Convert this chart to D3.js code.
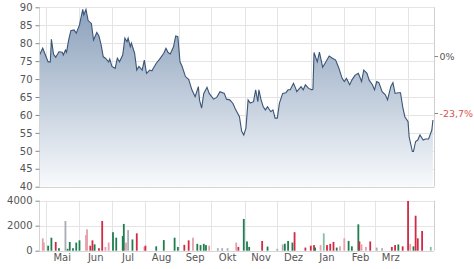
<!DOCTYPE html>
<html>
<head>
<meta charset="utf-8">
<script src="https://cdn.jsdelivr.net/npm/d3@7"></script>
<style>
  body { margin: 0; background: #fff; }
  text { font-family: "DejaVu Sans", sans-serif; font-size: 10px; fill: #555; }
</style>
</head>
<body>
<div id="chart"></div>
<script>
// price series (date, close)
const priceDates = ["2022-04-25","2022-04-28","2022-05-03","2022-05-05","2022-05-06","2022-05-08","2022-05-10","2022-05-13","2022-05-16","2022-05-17","2022-05-19","2022-05-20","2022-05-22","2022-05-24","2022-05-27","2022-05-29","2022-06-01","2022-06-04","2022-06-05","2022-06-07","2022-06-09","2022-06-12","2022-06-14","2022-06-17","2022-06-19","2022-06-21","2022-06-23","2022-06-25","2022-06-28","2022-06-29","2022-07-01","2022-07-04","2022-07-06","2022-07-08","2022-07-11","2022-07-13","2022-07-15","2022-07-16","2022-07-18","2022-07-19","2022-07-22","2022-07-24","2022-07-26","2022-07-29","2022-07-31","2022-08-02","2022-08-05","2022-08-07","2022-08-11","2022-08-14","2022-08-18","2022-08-20","2022-08-22","2022-08-24","2022-08-27","2022-08-29","2022-08-31","2022-09-02","2022-09-04","2022-09-07","2022-09-10","2022-09-13","2022-09-16","2022-09-19","2022-09-20","2022-09-22","2022-09-24","2022-09-27","2022-09-29","2022-10-03","2022-10-06","2022-10-09","2022-10-13","2022-10-15","2022-10-18","2022-10-21","2022-10-23","2022-10-27","2022-10-29","2022-10-31","2022-11-02","2022-11-04","2022-11-06","2022-11-09","2022-11-11","2022-11-13","2022-11-14","2022-11-16","2022-11-18","2022-11-20","2022-11-22","2022-11-25","2022-11-27","2022-11-29","2022-12-01","2022-12-03","2022-12-06","2022-12-09","2022-12-11","2022-12-13","2022-12-16","2022-12-18","2022-12-19","2022-12-23","2022-12-25","2022-12-27","2022-12-30","2023-01-02","2023-01-03","2023-01-04","2023-01-07","2023-01-09","2023-01-12","2023-01-15","2023-01-18","2023-01-21","2023-01-24","2023-01-27","2023-01-30","2023-02-01","2023-02-03","2023-02-06","2023-02-08","2023-02-11","2023-02-14","2023-02-17","2023-02-19","2023-02-22","2023-02-24","2023-02-27","2023-03-01","2023-03-03","2023-03-05","2023-03-08","2023-03-11","2023-03-13","2023-03-16","2023-03-18","2023-03-20","2023-03-23","2023-03-25","2023-03-27","2023-03-29","2023-04-01","2023-04-02","2023-04-05","2023-04-06","2023-04-08","2023-04-10","2023-04-12","2023-04-15","2023-04-17","2023-04-20","2023-04-23","2023-04-24"];
const priceValues = [76.7,78.6,74.8,74.8,81.1,76.9,76.1,77.6,77.5,76.7,78.1,77.5,80.9,83.5,83.7,82.8,85.1,89.4,87.9,89.4,86.3,85.5,80.9,83.0,82.0,79.5,76.2,75.8,74.8,75.6,73.5,73.0,75.8,74.8,76.7,81.4,80.4,81.4,79.0,80.0,77.2,72.5,73.5,72.5,75.3,71.6,72.5,72.3,74.4,75.5,77.2,78.6,77.4,77.0,79.0,82.0,81.8,74.8,73.5,70.7,69.9,67.0,65.1,67.9,64.2,61.9,66.0,67.7,66.0,64.4,64.9,66.5,66.0,64.4,64.2,63.2,61.8,59.5,55.5,54.4,56.3,64.2,63.3,63.7,67.0,63.7,67.0,64.2,62.3,61.4,62.3,60.9,61.4,59.1,59.1,63.3,66.0,66.2,67.0,67.0,68.8,67.4,66.5,67.9,67.0,68.4,67.4,67.0,67.2,77.4,74.8,77.5,73.3,74.8,76.4,75.8,75.3,73.0,70.2,69.3,70.2,68.4,69.7,71.1,71.6,69.3,72.5,71.6,69.7,68.4,67.0,69.3,69.0,66.5,65.6,64.2,67.9,69.0,66.0,66.2,66.2,62.3,59.5,58.1,53.9,49.8,49.8,52.6,53.0,54.4,53.0,53.3,53.3,55.8,58.6];

// volume bars (date, volume, kind)
const volDates = ["2022-04-28","2022-04-29","2022-05-03","2022-05-06","2022-05-10","2022-05-13","2022-05-19","2022-05-21","2022-05-23","2022-05-26","2022-05-29","2022-06-01","2022-06-07","2022-06-08","2022-06-11","2022-06-13","2022-06-15","2022-06-19","2022-06-22","2022-06-25","2022-06-28","2022-07-02","2022-07-05","2022-07-11","2022-07-12","2022-07-14","2022-07-16","2022-07-20","2022-07-24","2022-07-31","2022-08-01","2022-08-11","2022-08-18","2022-08-28","2022-08-31","2022-09-06","2022-09-10","2022-09-14","2022-09-18","2022-09-21","2022-09-24","2022-09-26","2022-09-29","2022-10-07","2022-10-11","2022-10-16","2022-10-24","2022-10-26","2022-10-31","2022-11-03","2022-11-05","2022-11-17","2022-11-22","2022-12-01","2022-12-06","2022-12-08","2022-12-11","2022-12-15","2022-12-17","2022-12-27","2023-01-01","2023-01-04","2023-01-05","2023-01-10","2023-01-13","2023-01-16","2023-01-19","2023-01-22","2023-01-25","2023-01-28","2023-02-01","2023-02-05","2023-02-08","2023-02-14","2023-02-15","2023-02-17","2023-02-21","2023-02-25","2023-03-03","2023-03-08","2023-03-17","2023-03-20","2023-03-23","2023-03-27","2023-04-01","2023-04-03","2023-04-06","2023-04-08","2023-04-10","2023-04-14","2023-04-22"];
const volValues = [990,650,400,1040,700,200,2380,150,700,200,650,830,1250,1710,400,830,510,200,2380,300,650,1480,1040,1170,2140,650,1650,900,1390,300,400,350,850,1040,300,470,830,1040,550,450,550,450,400,200,200,200,650,300,2540,740,300,780,330,150,500,560,780,650,1480,250,400,450,250,450,1390,450,550,700,250,350,990,780,350,2110,740,500,300,740,250,200,300,450,500,350,3980,540,350,2800,990,1580,300];
const volKinds = ["lr","lr","g","g","r","g","n","g","g","g","g","g","lr","lr","r","r","g","r","r","lr","lr","g","g","g","g","lr","n","g","r","lr","r","g","g","g","g","r","r","lr","g","g","g","g","lr","n","n","n","lr","r","g","g","g","r","g","n","n","g","g","g","r","r","r","r","g","lr","lg","r","r","r","g","lr","lr","g","g","g","r","lr","lr","r","n","n","r","r","g","r","r","lr","g","r","r","r","lg"];

const priceTicks = [40, 45, 50, 55, 60, 65, 70, 75, 80, 85, 90];
const volTicks = [0, 2000, 4000];
const monthLabels = ["Mai","Jun","Jul","Aug","Sep","Okt","Nov","Dez","Jan","Feb","Mrz"];
const perfLabels = [{ value: 76.4, text: "0%", color: "#555" }, { value: 60.6, text: "-23,7%", color: "#d9534f" }];

const kindColor = { g: "#1f7d4f", lg: "#86c0a0", r: "#d22a45", lr: "#e6a0aa", n: "#a8aab6" };

const width = 474, height = 269;
const parse = d3.timeParse("%Y-%m-%d");
const prices = priceDates.map((d, i) => ({ date: parse(d), value: priceValues[i] }));
const vols = volDates.map((d, i) => ({ date: parse(d), value: volValues[i], kind: volKinds[i] }));

const svg = d3.select("#chart").append("svg")
  .attr("width", width).attr("height", height);

const x = d3.scaleTime()
  .domain([parse("2022-04-25"), parse("2023-04-25")])
  .range([39.5, 434]);
const y = d3.scaleLinear().domain([40, 90]).range([186.7, 7.3]);
const yv = d3.scaleLinear().domain([0, 4000]).range([250.7, 200.7]);

const monthStarts = d3.timeMonth.range(parse("2022-05-01"), parse("2023-04-02"));

// gradient for area
const grad = svg.append("defs").append("linearGradient")
  .attr("id", "fillGrad").attr("x1", 0).attr("x2", 0)
  .attr("gradientUnits", "userSpaceOnUse")
  .attr("y1", y(90)).attr("y2", y(40));
grad.append("stop").attr("offset", "0%").attr("stop-color", "#8aa0bb");
grad.append("stop").attr("offset", "100%").attr("stop-color", "#f8fafc");

// grid - main
svg.append("g").selectAll("line").data(priceTicks).join("line")
  .attr("x1", x.range()[0]).attr("x2", x.range()[1])
  .attr("y1", d => Math.round(y(d)) + 0.5).attr("y2", d => Math.round(y(d)) + 0.5)
  .attr("stroke", "#e4e4e4");
svg.append("g").selectAll("line").data(monthStarts).join("line")
  .attr("x1", d => Math.round(x(d)) + 0.5).attr("x2", d => Math.round(x(d)) + 0.5)
  .attr("y1", y(90)).attr("y2", y(40))
  .attr("stroke", "#e4e4e4");

// area + line
const area = d3.area().x(d => x(d.date)).y0(y(40)).y1(d => y(d.value));
const line = d3.line().x(d => x(d.date)).y(d => y(d.value));
svg.append("path").datum(prices).attr("d", area).attr("fill", "url(#fillGrad)");
svg.append("path").datum(prices).attr("d", line)
  .attr("fill", "none").attr("stroke", "#3b5577").attr("stroke-width", 1.1);

// frame lines
svg.append("line").attr("x1", 434.5).attr("x2", 434.5).attr("y1", y(90)).attr("y2", y(40)).attr("stroke", "#cfcfcf");
svg.append("line").attr("x1", 39.5).attr("x2", 39.5).attr("y1", y(90)).attr("y2", y(40)).attr("stroke", "#d5d5d5");
svg.append("line").attr("x1", 39.5).attr("x2", 434.5).attr("y1", Math.round(y(40)) + 0.5).attr("y2", Math.round(y(40)) + 0.5).attr("stroke", "#d5d5d5");

// left price axis
const yAxis = svg.append("g").attr("transform", "translate(39.5,0)")
  .call(d3.axisLeft(y).tickValues(priceTicks).tickSize(4).tickPadding(3));
yAxis.select(".domain").remove();
yAxis.selectAll(".tick line").attr("stroke", "#888");

// right performance labels
const perf = svg.append("g").selectAll("g").data(perfLabels).join("g")
  .attr("transform", d => `translate(434.5,${Math.round(y(d.value)) + 0.5})`);
perf.append("line").attr("x1", 0).attr("x2", 3.5).attr("stroke", "#888");
perf.append("text").attr("x", 5).attr("dy", "0.35em")
  .style("font-size", "9.5px")
  .style("fill", d => d.color).text(d => d.text);

// volume grid
svg.append("g").selectAll("line").data(volTicks).join("line")
  .attr("x1", x.range()[0]).attr("x2", x.range()[1])
  .attr("y1", d => Math.round(yv(d)) + 0.5).attr("y2", d => Math.round(yv(d)) + 0.5)
  .attr("stroke", d => d === 0 ? "#d5d5d5" : "#e4e4e4");
svg.append("g").selectAll("line").data(monthStarts).join("line")
  .attr("x1", d => Math.round(x(d)) + 0.5).attr("x2", d => Math.round(x(d)) + 0.5)
  .attr("y1", yv(4000)).attr("y2", yv(0))
  .attr("stroke", "#e4e4e4");
svg.append("line").attr("x1", 434.5).attr("x2", 434.5).attr("y1", yv(4000)).attr("y2", yv(0)).attr("stroke", "#cfcfcf");
svg.append("line").attr("x1", 39.5).attr("x2", 39.5).attr("y1", yv(4000)).attr("y2", yv(0)).attr("stroke", "#d5d5d5");

// volume bars
svg.append("g").selectAll("rect").data(vols).join("rect")
  .attr("x", d => x(d.date) - 0.9)
  .attr("width", 1.8)
  .attr("y", d => yv(d.value))
  .attr("height", d => yv(0) - yv(d.value))
  .attr("fill", d => kindColor[d.kind]);

// volume axis
const vAxis = svg.append("g").attr("transform", "translate(39.5,0)")
  .call(d3.axisLeft(yv).tickValues(volTicks).tickSize(4).tickPadding(3).tickFormat(d3.format("d")));
vAxis.select(".domain").remove();
vAxis.selectAll(".tick line").attr("stroke", "#888");

// month labels, centred in month
const months = monthStarts.slice(0, monthLabels.length);
svg.append("g").selectAll("text").data(months).join("text")
  .attr("x", d => x(d3.timeDay.offset(d, 15)))
  .attr("y", 260.5)
  .attr("text-anchor", "middle")
  .text((d, i) => monthLabels[i]);

svg.selectAll(".tick text").style("font-family", "DejaVu Sans, sans-serif").style("font-size", "10px").style("fill", "#555");
</script>
</body>
</html>
